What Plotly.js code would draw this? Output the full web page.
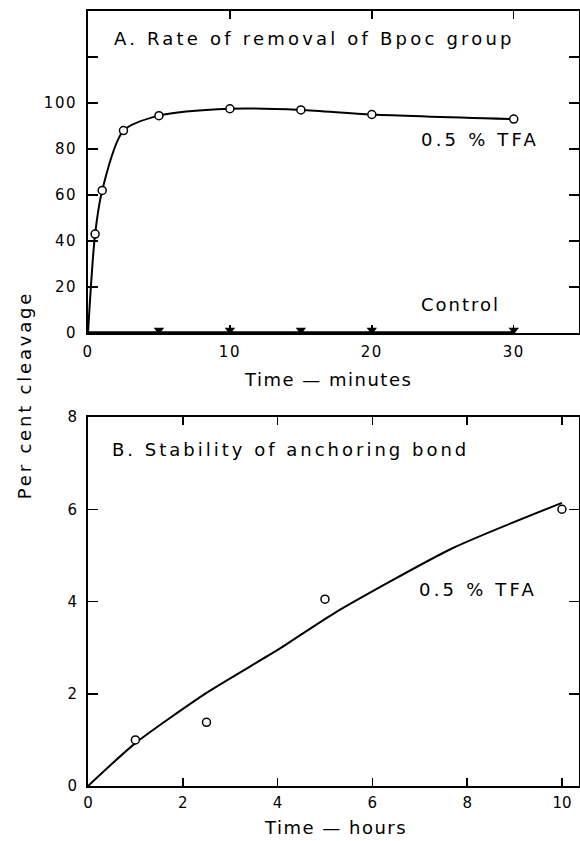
<!DOCTYPE html>
<html>
<head>
<meta charset="utf-8">
<script src="https://cdn.plot.ly/plotly-3.0.1.min.js"></script>
<style>
  html, body { margin: 0; padding: 0; background: #fff; }
  #chart { width: 580px; height: 841px; }
  .xtick text, .ytick text { letter-spacing: 1.5px; }
</style>
</head>
<body>
<div id="chart"></div>
<script>
// ---- Panel A: rate of removal of Bpoc group (time in minutes) ----
const tfaMinutes = [0.5, 1, 2.5, 5, 10, 15, 20, 30];
const tfaCleavageA = [43, 62, 88, 94.5, 97.5, 97, 95, 93];
const fitMinutes = [0, 0.5, 1, 2.5, 5, 10, 15, 20, 30];
const fitCleavageA = [0, 43, 62, 88, 94.5, 97.5, 97, 95, 93];
const controlMinutes = [5, 10, 15, 20, 30];
const controlCleavage = [1.3, 1.3, 1.3, 1.3, 1.3];
const controlLineMinutes = [0, 30];
const controlLineCleavage = [0, 0];

// ---- Panel B: stability of anchoring bond (time in hours) ----
const tfaHours = [1, 2.5, 5, 10];
const tfaCleavageB = [1.0, 1.38, 4.05, 6.0];
const fitHours = [0, 1, 2.5, 4, 5.2, 7.7, 10];
const fitCleavageB = [0, 0.93, 2.02, 2.95, 3.75, 5.16, 6.14];

// ---- Tick labels ----
const yTicksA = [0, 20, 40, 60, 80, 100, 120];
const yTickTextA = ['0', '20', '40', '60', '80', '100', ''];
const xTicksA = [0, 10, 20, 30];
const xTicksB = [0, 2, 4, 6, 8, 10];
const yTicksB = [0, 2, 4, 6, 8];

// ---- Texts ----
const titleA = 'A. Rate of removal of Bpoc group';
const titleB = 'B. Stability of anchoring bond';
const labelTFA = '0.5 % TFA';
const labelControl = 'Control';
const xTitleA = 'Time \u2014 minutes';
const xTitleB = 'Time \u2014 hours';
const yTitle = 'Per cent cleavage';

const FONT = 'DejaVu Sans, sans-serif';
const spaced = (t, px) => '<span style="letter-spacing:' + px + 'px">' + t + '</span>';

const traces = [
  { x: fitMinutes, y: fitCleavageA, xaxis: 'x', yaxis: 'y', mode: 'lines',
    line: { color: '#000', width: 2, shape: 'spline', smoothing: 0.8 }, hoverinfo: 'skip' },
  { x: tfaMinutes, y: tfaCleavageA, xaxis: 'x', yaxis: 'y', mode: 'markers',
    marker: { symbol: 'circle', size: 8, color: '#fff', line: { color: '#000', width: 1.5 } } },
  { x: controlLineMinutes, y: controlLineCleavage, xaxis: 'x', yaxis: 'y', mode: 'lines',
    line: { color: '#000', width: 3.5 }, cliponaxis: false },
  { x: controlMinutes, y: controlCleavage, xaxis: 'x', yaxis: 'y', mode: 'markers',
    marker: { symbol: 'triangle-down', size: 9, color: '#000' }, cliponaxis: false },
  { x: fitHours, y: fitCleavageB, xaxis: 'x2', yaxis: 'y2', mode: 'lines',
    line: { color: '#000', width: 2, shape: 'spline', smoothing: 0.6 }, cliponaxis: false },
  { x: tfaHours, y: tfaCleavageB, xaxis: 'x2', yaxis: 'y2', mode: 'markers',
    marker: { symbol: 'circle', size: 8, color: '#fff', line: { color: '#000', width: 1.5 } }, cliponaxis: false }
];

const axisCommon = {
  showgrid: false, zeroline: false, showline: true, linecolor: '#000', linewidth: 2,
  mirror: 'ticks', ticks: 'inside', tickcolor: '#000', tickwidth: 1.5,
  tickfont: { family: FONT, size: 15, color: '#000' }, fixedrange: true
};

const txtFont = { family: FONT, size: 18, color: '#000' };

const layout = {
  width: 580, height: 841,
  margin: { l: 88, r: 1, t: 11, b: 55 },
  paper_bgcolor: '#fff', plot_bgcolor: '#fff',
  showlegend: false,
  font: { family: FONT, color: '#000' },
  xaxis: Object.assign({}, axisCommon, {
    domain: [0, 1], anchor: 'y', range: [0, 34.6],
    tickmode: 'array', tickvals: xTicksA, ticklen: 8, ticklabelstandoff: 4
  }),
  yaxis: Object.assign({}, axisCommon, {
    domain: [0.5845, 1], anchor: 'x', range: [0, 140],
    tickmode: 'array', tickvals: yTicksA, ticktext: yTickTextA, ticklen: 10, ticklabelstandoff: 6
  }),
  xaxis2: Object.assign({}, axisCommon, {
    domain: [0, 1], anchor: 'y2', range: [0, 10.36],
    tickmode: 'array', tickvals: xTicksB, ticklen: 8, ticklabelstandoff: 2
  }),
  yaxis2: Object.assign({}, axisCommon, {
    domain: [0, 0.4761], anchor: 'x2', range: [0, 8],
    tickmode: 'array', tickvals: yTicksB, ticklen: 10, ticklabelstandoff: 6
  }),
  annotations: [
    { text: spaced(titleA, 3.2), xref: 'x', yref: 'y', x: 1.7, y: 128, xanchor: 'left', yanchor: 'middle',
      align: 'left', showarrow: false, font: txtFont },
    { text: spaced(labelTFA, 3.2), xref: 'x', yref: 'y', x: 23.3, y: 84, xanchor: 'left', yanchor: 'middle',
      align: 'left', showarrow: false, font: txtFont },
    { text: spaced(labelControl, 2), xref: 'x', yref: 'y', x: 23.3, y: 12.2, xanchor: 'left', yanchor: 'middle',
      align: 'left', showarrow: false, font: txtFont },
    { text: spaced(xTitleA, 1.5), xref: 'paper', yref: 'paper', x: 0.4898, y: 0.5239, xanchor: 'center', yanchor: 'middle',
      showarrow: false, font: txtFont },
    { text: spaced(titleB, 3), xref: 'x2', yref: 'y2', x: 0.46, y: 7.29, xanchor: 'left', yanchor: 'middle',
      align: 'left', showarrow: false, font: txtFont },
    { text: spaced(labelTFA, 3.2), xref: 'x2', yref: 'y2', x: 6.94, y: 4.27, xanchor: 'left', yanchor: 'middle',
      align: 'left', showarrow: false, font: txtFont },
    { text: spaced(xTitleB, 1.5), xref: 'paper', yref: 'paper', x: 0.505, y: -0.0684, xanchor: 'center', yanchor: 'bottom',
      borderpad: 0, showarrow: false, font: txtFont },
    { text: spaced(yTitle, 2.8), xref: 'paper', yref: 'paper', x: -0.130, y: 0.5045, xanchor: 'center', yanchor: 'middle',
      textangle: -90, showarrow: false, font: txtFont }
  ]
};

Plotly.newPlot('chart', traces, layout, { displayModeBar: false, staticPlot: true });
</script>
</body>
</html>
